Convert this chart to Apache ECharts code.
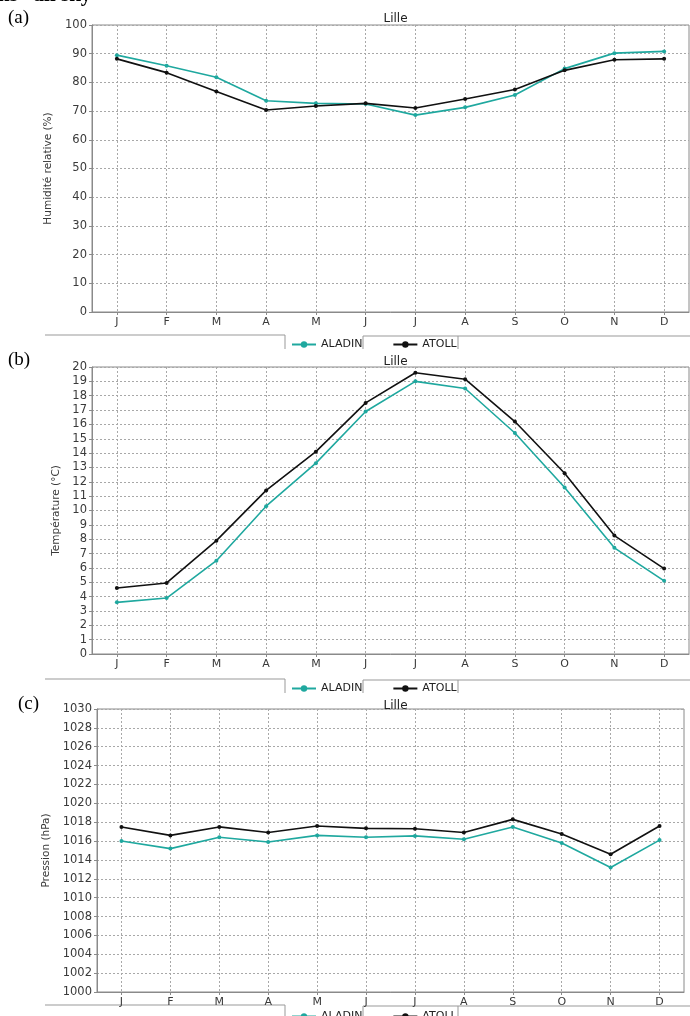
<!DOCTYPE html>
<html>
<head>
<meta charset="utf-8">
<script src="https://cdn.jsdelivr.net/npm/echarts@6/dist/echarts.min.js"></script>
<style>
html,body{margin:0;padding:0;background:#fff;}
#c{width:690px;height:1016px;}
</style>
</head>
<body>
<div id="c"></div>
<script>
const months = ['J','F','M','A','M','J','J','A','S','O','N','D'];
const seriesNames = ['ALADIN','ATOLL'];
const title = 'Lille';
const panelLabels = ['(a)','(b)','(c)'];
const yNames = ['Humidité relative (%)','Température (°C)','Pression (hPa)'];

const humAladin = [89.5, 85.8, 81.8, 73.6, 72.7, 72.5, 68.6, 71.3, 75.6, 84.8, 90.2, 90.8];
const humAtoll  = [88.2, 83.4, 76.8, 70.4, 71.8, 72.7, 71.1, 74.2, 77.5, 84.2, 87.9, 88.2];
const tempAladin = [3.6, 3.9, 6.5, 10.3, 13.3, 16.9, 19.0, 18.5, 15.4, 11.6, 7.4, 5.1];
const tempAtoll  = [4.6, 4.95, 7.9, 11.4, 14.1, 17.5, 19.6, 19.15, 16.2, 12.6, 8.25, 5.95];
const presAladin = [1016.0, 1015.2, 1016.4, 1015.9, 1016.6, 1016.4, 1016.55, 1016.2, 1017.5, 1015.8, 1013.2, 1016.1];
const presAtoll  = [1017.5, 1016.6, 1017.5, 1016.9, 1017.6, 1017.35, 1017.3, 1016.9, 1018.3, 1016.75, 1014.6, 1017.6];

const yRanges = [[0,100,10],[0,20,1],[1000,1030,2]];

const TEAL = '#1fa89f';
const BLACK = '#111111';
const AXIS = '#8a8a8a';
const GRIDC = '#a8a8a8';
const TXT = '#3a3a3a';
const FONT = 'DejaVu Sans';

const grids = [
  {left: 92, top: 25, width: 597, height: 287},
  {left: 92, top: 367, width: 597, height: 287},
  {left: 97, top: 709, width: 587, height: 283}
];
const nameGaps = [31, 24, 39];
const legendTops = [334, 678, 1006];
const titleTops = [8, 351, 695];

const chart = echarts.init(document.getElementById('c'), null, {renderer: 'canvas'});

const xAxes = [], yAxes = [], series = [], legends = [], titles = [];
const dataSets = [[humAladin, humAtoll],[tempAladin, tempAtoll],[presAladin, presAtoll]];

grids.forEach((g, i) => {
  g.show = true; g.borderColor = AXIS; g.borderWidth = 1; g.containLabel = false;
  xAxes.push({
    type: 'category', gridIndex: i, data: months, boundaryGap: true,
    axisLine: {lineStyle: {color: AXIS, width: 1}},
    axisTick: {show: true, alignWithLabel: true, length: 3, lineStyle: {color: AXIS}},
    axisLabel: {color: TXT, fontFamily: FONT, fontSize: 11, margin: 5},
    splitLine: {show: true, alignWithLabel: true, lineStyle: {color: GRIDC, type: [2, 2], width: 1}}
  });
  yAxes.push({
    type: 'value', gridIndex: i, min: yRanges[i][0], max: yRanges[i][1], interval: yRanges[i][2],
    name: yNames[i], nameLocation: 'middle', nameGap: nameGaps[i], nameRotate: 90,
    nameTextStyle: {color: TXT, fontFamily: FONT, fontSize: 10.5},
    axisLine: {show: true, lineStyle: {color: AXIS, width: 1}},
    axisTick: {show: true, length: 3, lineStyle: {color: AXIS}},
    axisLabel: {color: TXT, fontFamily: FONT, fontSize: 11.5, margin: 5, formatter: v => String(v)},
    splitLine: {show: true, lineStyle: {color: GRIDC, type: [2, 2], width: 1}}
  });
  dataSets[i].forEach((d, k) => {
    series.push({
      name: seriesNames[k], type: 'line', xAxisIndex: i, yAxisIndex: i, data: d,
      symbol: 'circle', symbolSize: 4, showSymbol: true,
      lineStyle: {color: k === 0 ? TEAL : BLACK, width: 1.6},
      itemStyle: {color: k === 0 ? TEAL : BLACK},
      z: k === 0 ? 3 : 4, animation: false
    });
  });
  legends.push({
    data: seriesNames, left: 286, top: legendTops[i], itemWidth: 24, itemHeight: 8, itemGap: 30,
    textStyle: {color: '#222', fontFamily: FONT, fontSize: 11}, selectedMode: false
  });
  titles.push({
    text: title, left: g.left + g.width / 2, top: titleTops[i], textAlign: 'center',
    textStyle: {color: '#222', fontFamily: FONT, fontSize: 12, fontWeight: 'normal'}
  });
});

const sepY = [335, 679, 1005];
const graphics = [];
sepY.forEach((y, i) => {
  graphics.push({type: 'polyline', shape: {points: [[45, y], [285, y], [285, y + 14]]}, style: {stroke: '#999', lineWidth: 1, fill: null}, silent: true});
  graphics.push({type: 'polyline', shape: {points: [[363, y + 14], [363, y + 1], [690, y + 1]]}, style: {stroke: '#999', lineWidth: 1, fill: null}, silent: true});
  graphics.push({type: 'line', shape: {x1: 458, y1: y + 1, x2: 458, y2: y + 14}, style: {stroke: '#999', lineWidth: 1}, silent: true});
});
const labelPos = [[8, 20], [8, 362], [18, 706]];
panelLabels.forEach((t, i) => {
  graphics.push({type: 'text', left: labelPos[i][0], top: labelPos[i][1] - 11,
    style: {text: t, font: '19px "Liberation Serif", "Times New Roman", serif', fill: '#000'}, silent: true});
});
graphics.push({type: 'text', x: -2, y: 6, style: {text: 'ns   all sky', font: 'bold 21px "Liberation Serif", serif', fill: '#000', verticalAlign: 'bottom'}, silent: true});

chart.setOption({
  animation: false,
  backgroundColor: '#fff',
  title: titles,
  grid: grids,
  xAxis: xAxes,
  yAxis: yAxes,
  legend: legends,
  series: series,
  graphic: graphics
});
</script>
</body>
</html>
